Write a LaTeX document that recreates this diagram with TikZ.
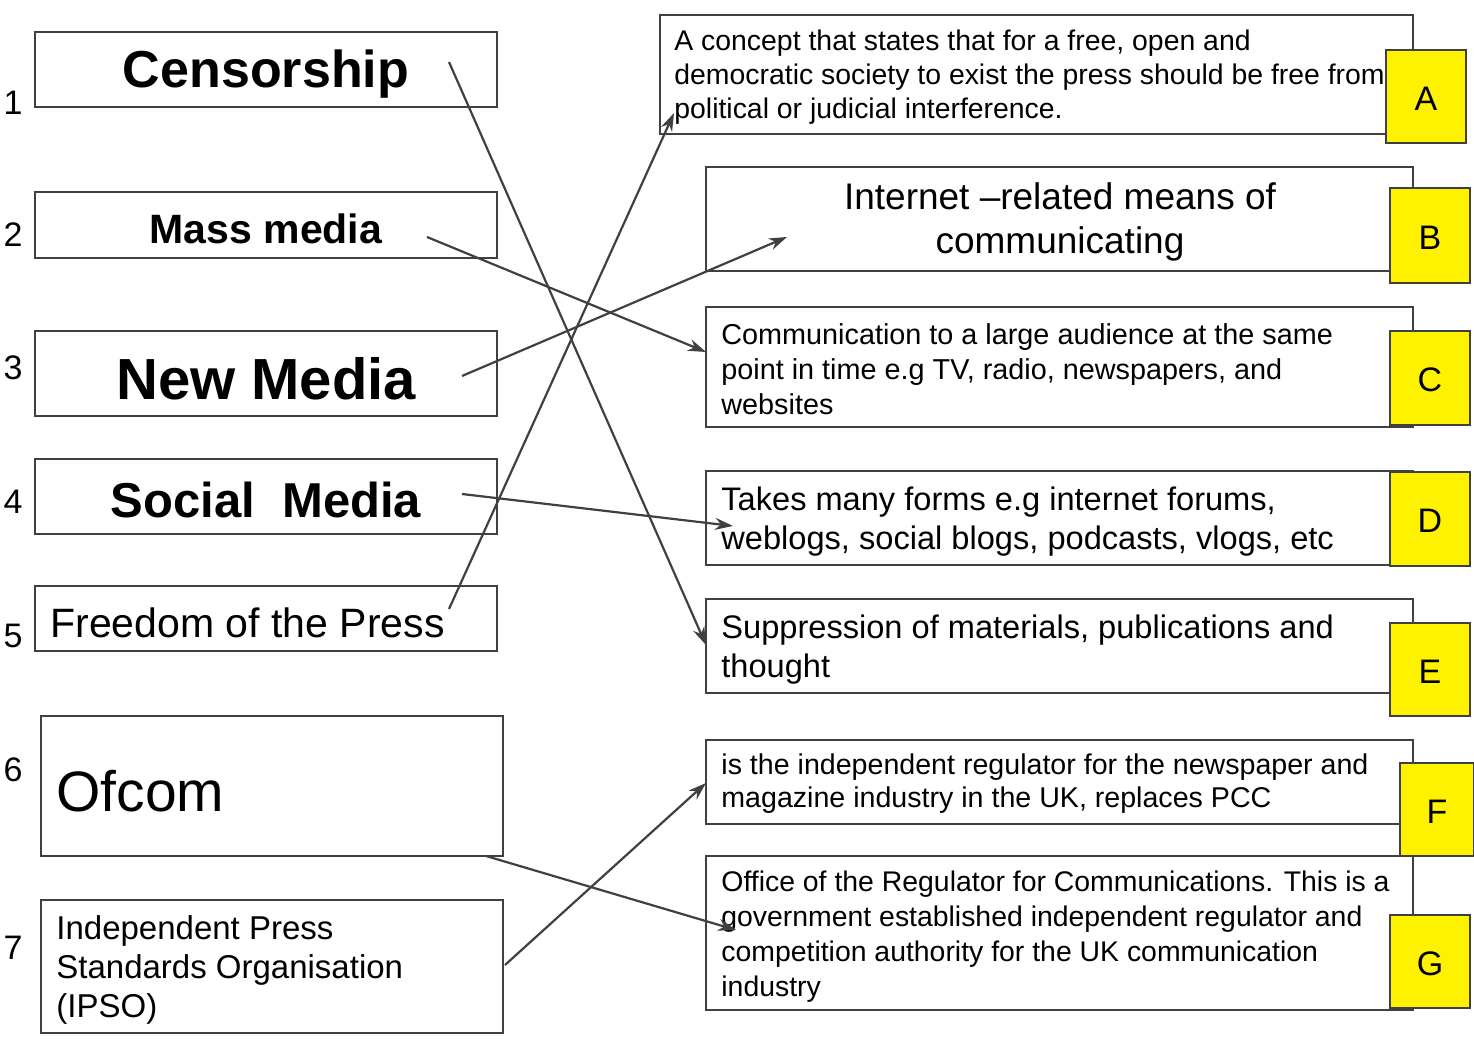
\documentclass[tikz,border=0pt]{standalone}
\usepackage{fontspec}
\setmainfont{Liberation Sans}
\usetikzlibrary{arrows.meta}
\begin{document}
\begin{tikzpicture}[x=0.5pt,y=-0.5pt,
 box/.style={draw=black!75,line width=1pt},
 yel/.style={draw=black!75,fill=yellow,line width=1pt},
 arr/.style={draw=black!75,line width=1.1pt,-{Stealth[length=9pt,width=6pt]}},
 txt/.style={anchor=west,align=left,inner sep=0pt}]
\useasboundingbox (0,0) rectangle (1474,1042);
% left boxes
\draw[box] (35,32) rectangle (497,107);
\node[font=\fontsize{26}{30}\selectfont\bfseries] (l1) at (266,74) {Censorship};
\draw[box] (35,192) rectangle (497,258);
\node[font=\fontsize{20.5}{24}\selectfont\bfseries] (l2) at (266,229) {Mass media};
\draw[box] (35,331) rectangle (497,416);
\node[font=\fontsize{29}{33}\selectfont\bfseries] (l3) at (266,379) {New Media};
\draw[box] (35,459) rectangle (497,534);
\node[font=\fontsize{24.5}{28}\selectfont\bfseries] (l4) at (266,500) {Social\ \ Media};
\draw[box] (35,586) rectangle (497,651);
\node[txt,font=\fontsize{20.5}{24}\selectfont] (l5) at (50,623) {Freedom of the Press};
\draw[box] (41,716) rectangle (503,856);
\node[txt,font=\fontsize{28.5}{33}\selectfont] (l6) at (56,791) {Ofcom};
\draw[box] (41,900) rectangle (503,1033);
\node[txt,font=\fontsize{16.5}{19.5}\selectfont] (l7) at (56,970) {Independent Press\\Standards Organisation\\(IPSO)};
% numbers
\foreach \n/\y in {1/103,2/235,3/368,4/502,5/636,6/770,7/948}
  \node[font=\fontsize{17}{20}\selectfont] (n\n) at (13,\y) {\n};
% right boxes
\draw[box] (660,15) rectangle (1413,134);
\node[txt,font=\fontsize{14.2}{17}\selectfont] (rA) at (674,77) {A concept that states that for a free, open and\\democratic society to exist the press should be free from\\political or judicial interference.};
\draw[box] (706,167) rectangle (1413,271);
\node[align=center,font=\fontsize{18.5}{22}\selectfont] (rB) at (1060,222) {Internet --related means of\\communicating};
\draw[box] (706,307) rectangle (1413,427);
\node[txt,font=\fontsize{14.4}{17.5}\selectfont] (rC) at (721,369) {Communication to a large audience at the same\\point in time e.g TV, radio, newspapers, and\\websites};
\draw[box] (706,471) rectangle (1413,565);
\node[txt,font=\fontsize{16.3}{19.5}\selectfont] (rD) at (721,522) {Takes many forms e.g internet forums,\\weblogs, social blogs, podcasts, vlogs, etc};
\draw[box] (706,599) rectangle (1413,693);
\node[txt,font=\fontsize{16.3}{19.5}\selectfont] (rE) at (721,650) {Suppression of materials, publications and\\thought};
\draw[box] (706,740) rectangle (1413,824);
\node[txt,font=\fontsize{14.3}{16.5}\selectfont] (rF) at (721,784) {is the independent regulator for the newspaper and\\magazine industry in the UK, replaces PCC};
\draw[box] (706,856) rectangle (1413,1010);
\node[txt,font=\fontsize{14.2}{17.5}\selectfont] (rG) at (721,937) {Office of the Regulator for Communications. This is a\\government established independent regulator and\\competition authority for the UK communication\\industry};
% yellow letters
\foreach \L/\a/\b/\c/\d in {A/1386/50/1466/143,B/1390/188/1470/283,C/1390/331/1470/425,D/1390/472/1470/566,E/1390/623/1470/716,F/1400/763/1474/856,G/1390/915/1470/1008}{
  \draw[yel] (\a,\b) rectangle (\c,\d);
  \node[font=\fontsize{17}{20}\selectfont] (y\L) at ({(\a+\c)/2},{(\b+\d)/2+2}) {\L};}
% connectors
\coordinate (s1) at (449,62); \coordinate (e1) at (706,645);
\coordinate (s2) at (427,237); \coordinate (e2) at (706,352);
\coordinate (s3) at (462,376); \coordinate (e3) at (787,237);
\coordinate (s4) at (462,494); \coordinate (e4) at (733,526);
\coordinate (s5) at (449,609); \coordinate (e5) at (674,113);
\coordinate (s6) at (486,856); \coordinate (e6) at (736,930);
\coordinate (s7) at (505,965); \coordinate (e7) at (706,783);
\foreach \i in {1,...,7} \draw[arr] (s\i) -- (e\i);
\end{tikzpicture}
\end{document}
